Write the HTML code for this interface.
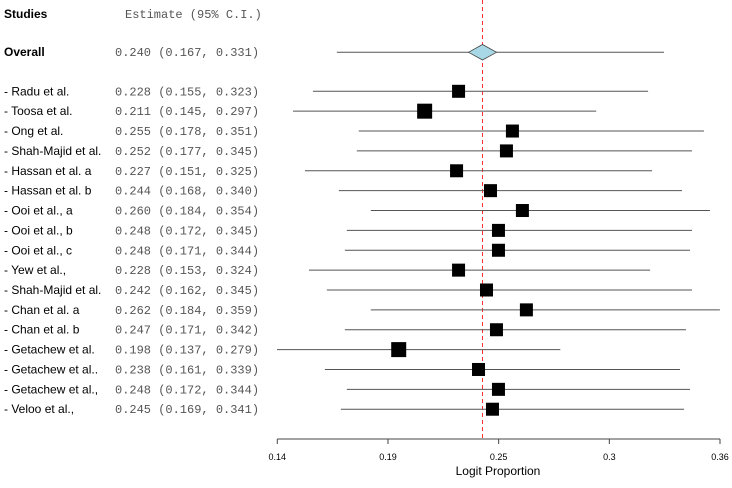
<!DOCTYPE html>
<html><head><meta charset="utf-8"><style>
body{margin:0;background:#fff;width:732px;height:483px;overflow:hidden}
svg text{font-family:"Liberation Sans",sans-serif}
.mono{font-family:"Liberation Mono",monospace;fill:#555;font-size:12px}
</style></head><body>
<svg id="c" width="732" height="483"></svg>
<script>
const studies=["Radu et al.","Toosa et al.","Ong et al.","Shah-Majid et al.","Hassan et al.  a","Hassan et al.  b","Ooi et al., a","Ooi et al., b","Ooi et al., c","Yew et al.,","Shah-Majid et al.","Chan et al.  a","Chan et al.  b","Getachew et al.","Getachew et al..","Getachew et al.,","Veloo et al.,"];
const est=[0.228,0.211,0.255,0.252,0.227,0.244,0.260,0.248,0.248,0.228,0.242,0.262,0.247,0.198,0.238,0.248,0.245];
const lo=[0.155,0.145,0.178,0.177,0.151,0.168,0.184,0.172,0.171,0.153,0.162,0.184,0.171,0.137,0.161,0.172,0.169];
const hi=[0.323,0.297,0.351,0.345,0.325,0.340,0.354,0.345,0.344,0.324,0.345,0.359,0.342,0.279,0.339,0.344,0.341];
const boxSize=[13,15,13,13,13,13,13,13,13,13,13,13,13,15,13,13,13];
const overall=[0.240,0.167,0.331];
const tickLabels=["0.14","0.19","0.25","0.3","0.36"];
const NS="http://www.w3.org/2000/svg",svg=document.getElementById('c');
const x=p=>482.5+(p-0.24)*1995;
const rowY=i=>91.3+i*19.87;
function mk(t,a,txt){const e=document.createElementNS(NS,t);for(const k in a)e.setAttribute(k,a[k]);if(txt!=null)e.textContent=txt;svg.appendChild(e);return e;}
const fmt=v=>v.toFixed(3);
let e;
e=mk('text',{x:4,y:18,'font-size':12,'font-weight':'bold'},'Studies');


e=mk('text',{x:125,y:18,class:'mono'},'Estimate (95% C.I.)');


e=mk('text',{x:4,y:56,'font-size':12,'font-weight':'bold'},'Overall');


e=mk('text',{x:115,y:56,class:'mono'},fmt(overall[0])+' ('+fmt(overall[1])+', '+fmt(overall[2])+')');


// reference line
e=mk('line',{x1:x(overall[0]),x2:x(overall[0]),y1:0,y2:439,stroke:'#f33','stroke-dasharray':'4,3','stroke-width':1});


// overall
e=mk('line',{x1:x(overall[1]),x2:x(overall[2]),y1:52.3,y2:52.3,stroke:'#555','stroke-width':1});


const cx=x(overall[0]);
e=mk('polygon',{points:`${cx-14},52.3 ${cx},44.5 ${cx+14},52.3 ${cx},60`,fill:'#a8d8e6',stroke:'#444','stroke-width':0.8});


studies.forEach((s,i)=>{
  const y=rowY(i);
  let t=mk('text',{x:4,y:y+4,'font-size':12},'- '+s);
  
  
  t=mk('text',{x:115,y:y+4,class:'mono'},fmt(est[i])+' ('+fmt(lo[i])+', '+fmt(hi[i])+')');
  
  
  t=mk('line',{x1:x(lo[i]),x2:x(hi[i]),y1:y,y2:y,stroke:'#555','stroke-width':1});
  
  
  const b=boxSize[i];
  t=mk('rect',{x:x(est[i])-b/2,y:y-b/2,width:b,height:b,fill:'#000'});
  
  
});
// axis
e=mk('line',{x1:277.3,x2:720,y1:439,y2:439,stroke:'#444','stroke-width':1});


const step=(720-277.3)/(tickLabels.length-1);
tickLabels.forEach((l,i)=>{
  const tx=277.3+i*step;
  let t=mk('line',{x1:tx,x2:tx,y1:439,y2:444,stroke:'#444'});
  
  
  t=mk('text',{x:tx,y:460,'font-size':9,'text-anchor':'middle'},l);
  
  
});
e=mk('text',{x:498,y:475,'font-size':12,'text-anchor':'middle'},'Logit Proportion');


</script>
</body></html>
